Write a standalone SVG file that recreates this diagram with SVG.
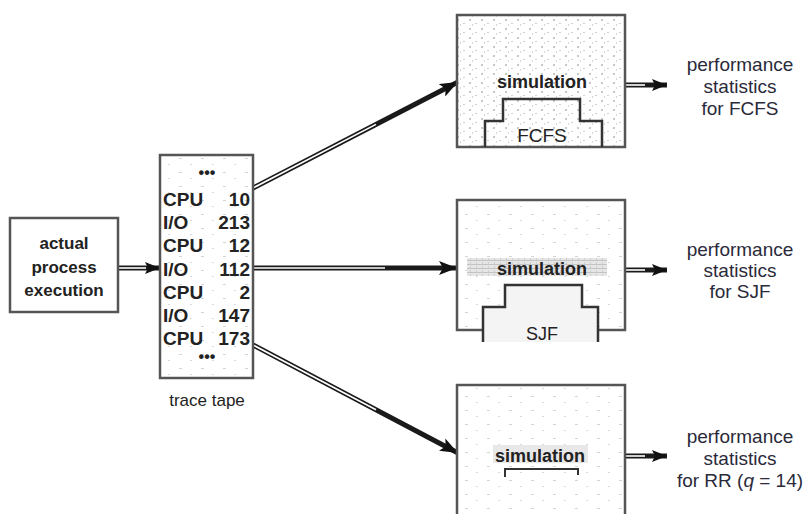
<svg xmlns="http://www.w3.org/2000/svg" width="810" height="514" viewBox="0 0 810 514">
<defs>
<pattern id="speck" width="12" height="9" patternUnits="userSpaceOnUse">
<rect width="12" height="9" fill="#ffffff"/>
<rect x="1" y="1" width="2" height="2" fill="#c8c8c8"/>
<rect x="7" y="5" width="2" height="1" fill="#d0d0d0"/>
<rect x="4" y="6" width="1" height="2" fill="#d8d8d8"/>
</pattern>
<pattern id="speck2" width="22" height="14" patternUnits="userSpaceOnUse">
<rect width="22" height="14" fill="#ffffff"/>
<rect x="3" y="4" width="3" height="1" fill="#d4d4d4"/>
<rect x="14" y="10" width="2" height="1" fill="#dadada"/>
</pattern>
<pattern id="band" width="6" height="4" patternUnits="userSpaceOnUse">
<rect width="6" height="4" fill="#e6e6e6"/>
<rect width="6" height="1" fill="#c4c4c4"/>
<rect x="2" y="2" width="1" height="2" fill="#cfcfcf"/>
</pattern>
<marker id="head" markerUnits="userSpaceOnUse" markerWidth="20" markerHeight="14" refX="18" refY="7" orient="auto">
<path d="M0,0 L18,7 L0,14 L4,7 z" fill="#111"/>
</marker>
<marker id="headS" markerUnits="userSpaceOnUse" markerWidth="16" markerHeight="12" refX="15" refY="6" orient="auto">
<path d="M0,0 L15,6 L0,12 L3,6 z" fill="#111"/>
</marker>
</defs>
<style>
.box{stroke:#555;stroke-width:2.5}
.t{font-family:"Liberation Sans",Arial,sans-serif;fill:#222}
.tb{font-family:"Liberation Sans",Arial,sans-serif;font-weight:bold;fill:#222}
.lbl{font-family:"Liberation Sans",Arial,sans-serif;font-size:19px;fill:#2a2a3a;text-anchor:middle}
.shaft{stroke:#1a1a1a;stroke-width:5;fill:none}
.core{stroke:#fff;stroke-width:1.6;fill:none}
.inner{fill:none;stroke:#333;stroke-width:2.5}
</style>

<g id="connectors">
<line class="shaft" x1="118" y1="268" x2="160" y2="268" marker-end="url(#headS)"/>
<line class="core" x1="118" y1="268" x2="146" y2="268"/>
<line class="shaft" x1="253" y1="188" x2="458" y2="82" marker-end="url(#head)"/>
<line class="core" x1="253" y1="188" x2="376" y2="124.4"/>
<line class="shaft" x1="253" y1="268" x2="457" y2="268" marker-end="url(#head)"/>
<line class="core" x1="253" y1="268" x2="385" y2="268"/>
<line class="shaft" x1="253" y1="345" x2="458" y2="453" marker-end="url(#head)"/>
<line class="core" x1="253" y1="345" x2="376" y2="409.8"/>
<line class="shaft" x1="625" y1="85" x2="667" y2="85" marker-end="url(#headS)"/>
<line class="core" x1="625" y1="85" x2="645" y2="85"/>
<line class="shaft" x1="625" y1="270" x2="667" y2="270" marker-end="url(#headS)"/>
<line class="core" x1="625" y1="270" x2="645" y2="270"/>
<line class="shaft" x1="625" y1="456" x2="667" y2="456" marker-end="url(#headS)"/>
<line class="core" x1="625" y1="456" x2="645" y2="456"/>
</g>

<g id="actual-process">
<rect class="box" x="10" y="218" width="108" height="94" fill="#fff"/>
<text class="tb" font-size="17" text-anchor="middle" x="64" y="249" fill="#333">actual</text>
<text class="tb" font-size="17" text-anchor="middle" x="64" y="273" fill="#333">process</text>
<text class="tb" font-size="17" text-anchor="middle" x="64" y="296" fill="#333">execution</text>
</g>

<g id="trace-tape">
<rect class="box" x="160" y="155" width="93" height="223" fill="url(#speck2)"/>
<text class="tb" font-size="16" text-anchor="middle" x="207" y="178">•••</text>
<g class="tb" font-size="19">
<text x="163" y="206">CPU</text><text x="250" y="206" text-anchor="end">10</text>
<text x="163" y="229">I/O</text><text x="250" y="229" text-anchor="end">213</text>
<text x="163" y="252">CPU</text><text x="250" y="252" text-anchor="end">12</text>
<text x="163" y="276">I/O</text><text x="250" y="276" text-anchor="end">112</text>
<text x="163" y="299">CPU</text><text x="250" y="299" text-anchor="end">2</text>
<text x="163" y="322">I/O</text><text x="250" y="322" text-anchor="end">147</text>
<text x="163" y="345">CPU</text><text x="250" y="345" text-anchor="end">173</text>
</g>
<text class="tb" font-size="16" text-anchor="middle" x="207" y="362">•••</text>
<text class="t" font-size="17" text-anchor="middle" x="207" y="406" fill="#4a4a5a">trace tape</text>
</g>

<g id="sim-fcfs">
<rect class="box" x="457" y="15" width="168" height="132" fill="url(#speck)"/>
<text class="tb" font-size="18" text-anchor="middle" x="542" y="88">simulation</text>
<path class="inner" d="M485,147 L485,121 L503,121 L503,99 L580,99 L580,121 L602,121 L602,147"/>
<text class="t" font-size="19" text-anchor="middle" x="542" y="142" fill="#333">FCFS</text>
</g>

<g id="sim-sjf">
<rect class="box" x="457" y="200" width="168" height="130" fill="url(#speck2)"/>
<rect x="467" y="258" width="140" height="18" fill="url(#band)"/>
<text class="tb" font-size="18" text-anchor="middle" x="542" y="275">simulation</text>
<path d="M483,342 L483,307 L505,307 L505,285 L582,285 L582,307 L598,307 L598,342" fill="#f4f4f4" stroke="#333" stroke-width="2.5"/>
<text class="t" font-size="18" text-anchor="middle" x="542" y="340" fill="#666">SJF</text>
</g>

<g id="sim-rr">
<rect class="box" x="457" y="385" width="168" height="140" fill="url(#speck2)"/>
<rect x="493" y="445" width="95" height="18" fill="#e8e8e8"/>
<text class="tb" font-size="18" text-anchor="middle" x="540" y="462">simulation</text>
<path d="M505,477 L505,469 L578,469 L578,475" fill="none" stroke="#333" stroke-width="2"/>
</g>

<g id="stats-fcfs">
<text class="lbl" x="740" y="71">performance</text>
<text class="lbl" x="740" y="93">statistics</text>
<text class="lbl" x="740" y="115">for FCFS</text>
</g>
<g id="stats-sjf">
<text class="lbl" x="740" y="256">performance</text>
<text class="lbl" x="740" y="277">statistics</text>
<text class="lbl" x="740" y="298">for SJF</text>
</g>
<g id="stats-rr">
<text class="lbl" x="740" y="443">performance</text>
<text class="lbl" x="740" y="465">statistics</text>
<text class="lbl" x="740" y="487">for RR (<tspan font-style="italic">q</tspan> = 14)</text>
</g>
</svg>
